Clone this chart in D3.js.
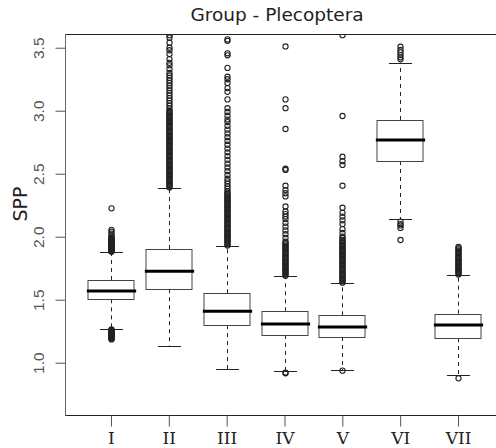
<!DOCTYPE html>
<html><head><meta charset="utf-8">
<script src="https://cdn.jsdelivr.net/npm/d3@7"></script>
<style>body{margin:0;background:#fff}svg{display:block}</style>
</head><body>
<svg id="chart" width="496" height="448"></svg>
<script>
const groups = ["I","II","III","IV","V","VI","VII"];
const lowerWhisker = [1.270, 1.135, 0.948, 0.934, 0.942, 2.140, 0.905];
const q1 = [1.503, 1.583, 1.299, 1.220, 1.204, 2.601, 1.196];
const medians = [1.570, 1.725, 1.408, 1.307, 1.283, 2.767, 1.299];
const q3 = [1.656, 1.902, 1.551, 1.408, 1.376, 2.926, 1.389];
const upperWhisker = [1.876, 2.389, 1.929, 1.690, 1.633, 3.381, 1.696];
const yTicks = [1.0, 1.5, 2.0, 2.5, 3.0, 3.5];

const outliersI = [1.265,1.26,1.255,1.25,1.245,1.24,1.235,1.23,1.225,1.22,1.215,1.21,1.205,1.20,1.195,1.19,1.185,
  1.88,1.885,1.89,1.895,1.90,1.905,1.91,1.915,1.92,1.925,1.93,1.935,1.94,1.945,1.95,1.955,1.96,1.965,1.97,1.975,
  1.98,1.985,1.99,1.995,2.01,2.025,2.04,2.055,2.225];
const outliersII = [2.39,2.40,2.41,2.42,2.43,2.44,2.45,2.46,2.47,2.48,2.49,2.50,2.51,2.52,2.53,2.54,2.55,2.56,
  2.57,2.58,2.59,2.60,2.61,2.62,2.63,2.64,2.65,2.66,2.67,2.68,2.69,2.70,2.71,2.72,2.73,2.74,2.75,2.76,2.77,
  2.78,2.79,2.80,2.81,2.82,2.83,2.84,2.85,2.86,2.87,2.88,2.89,2.90,2.91,2.92,2.93,2.94,2.95,2.96,2.97,2.98,
  2.99,3.00,3.02,3.04,3.06,3.08,3.10,3.12,3.14,3.16,3.18,3.20,3.22,3.24,3.26,3.28,3.30,3.33,3.36,3.38,3.41,
  3.45,3.48,3.50,3.54,3.58,3.60];
const outliersIII = [1.93,1.94,1.95,1.96,1.97,1.98,1.99,2.00,2.01,2.02,2.03,2.04,2.05,2.06,2.07,2.08,2.09,2.10,
  2.11,2.12,2.13,2.14,2.15,2.16,2.17,2.18,2.19,2.20,2.21,2.22,2.23,2.24,2.25,2.26,2.27,2.28,2.29,2.30,2.31,
  2.32,2.33,2.34,2.35,2.36,2.38,2.40,2.42,2.44,2.46,2.49,2.52,2.55,2.58,2.61,2.64,2.67,2.70,
  2.73,2.76,2.79,2.82,2.85,2.88,2.91,2.93,2.96,2.99,3.02,3.09,3.15,3.18,3.22,3.25,3.27,3.34,3.44,3.456,3.555,3.566];
const outliersIV = [0.916,0.922,1.69,1.70,1.71,1.72,1.73,1.74,1.75,1.76,1.77,1.78,1.79,1.80,1.81,1.82,1.83,1.84,
  1.85,1.86,1.87,1.88,1.89,1.90,1.91,1.92,1.93,1.94,1.95,1.96,
  1.99,2.02,2.05,2.08,2.11,2.14,2.16,2.18,2.20,2.24,2.32,2.345,2.37,2.405,2.53,2.54,2.855,3.02,3.09,3.51];
const outliersV = [0.937,1.635,1.645,1.655,1.665,1.675,1.685,1.695,1.705,1.715,1.725,1.735,1.745,1.755,1.765,1.775,
  1.785,1.795,1.805,1.815,1.825,1.835,1.845,1.855,1.865,1.875,1.885,1.895,1.905,1.915,1.925,1.935,1.945,1.955,
  1.965,1.975,1.99,2.00,2.03,2.06,2.10,2.13,2.16,2.19,2.23,2.405,2.57,2.60,2.635,2.958,3.60];
const outliersVI = [1.974,2.07,2.09,2.10,2.12,3.408,3.424,3.442,3.463,3.482,3.508];
const outliersVII = [0.876,1.70,1.71,1.72,1.73,1.74,1.75,1.76,1.77,1.78,1.79,1.80,1.81,1.82,1.83,1.84,1.85,
  1.86,1.87,1.88,1.89,1.90,1.91,1.92];
const outliers = [outliersI, outliersII, outliersIII, outliersIV, outliersV, outliersVI, outliersVII];

const svg = d3.select("#chart");
const pLeft = 65, pRight = 504, pTop = 34, pBottom = 415;
const x = d3.scaleLinear().domain([0.205, 7.795]).range([pLeft, pRight]);
const y = d3.scaleLinear().domain([0.585, 3.609]).range([pBottom, pTop]);
const boxW = (x(1) - x(0)) * 0.8;
const capW = boxW / 2;

svg.append("defs").append("clipPath").attr("id","clip")
  .append("rect").attr("x",pLeft).attr("y",pTop).attr("width",pRight-pLeft).attr("height",pBottom-pTop);

const plot = svg.append("g").attr("clip-path","url(#clip)");

groups.forEach((g, i) => {
  const cx = Math.round(x(i + 1)) + 0.5;
  const grp = plot.append("g");
  grp.append("line").attr("x1",cx).attr("x2",cx).attr("y1",y(q3[i])).attr("y2",y(upperWhisker[i]))
    .attr("stroke","#222").attr("stroke-dasharray","4,4");
  grp.append("line").attr("x1",cx).attr("x2",cx).attr("y1",y(q1[i])).attr("y2",y(lowerWhisker[i]))
    .attr("stroke","#222").attr("stroke-dasharray","4,4");
  [upperWhisker[i], lowerWhisker[i]].forEach(v => {
    grp.append("line").attr("x1",cx-capW/2).attr("x2",cx+capW/2)
      .attr("y1",Math.round(y(v))+0.5).attr("y2",Math.round(y(v))+0.5).attr("stroke","#222");
  });
  const yt = Math.round(y(q3[i])) + 0.5, yb = Math.round(y(q1[i])) + 0.5;
  grp.append("rect").attr("x",Math.round(cx-boxW/2)).attr("y",yt).attr("width",Math.round(boxW))
    .attr("height",yb-yt).attr("fill","#fff").attr("stroke","#444");
  grp.append("line").attr("x1",cx-boxW/2-1.5).attr("x2",cx+boxW/2+1.5)
    .attr("y1",y(medians[i])).attr("y2",y(medians[i])).attr("stroke","#000").attr("stroke-width",3);
  grp.selectAll("circle").data(outliers[i]).enter().append("circle")
    .attr("cx",cx).attr("cy",d => y(d)).attr("r",2.6)
    .attr("fill","none").attr("stroke","#222").attr("stroke-width",1.1);
});

svg.append("rect").attr("x",pLeft+0.5).attr("y",pTop+0.5).attr("width",pRight-pLeft).attr("height",pBottom-pTop)
  .attr("fill","none").attr("stroke","#222");
svg.append("line").attr("x1",pLeft+0.5).attr("x2",pLeft+0.5).attr("y1",pTop).attr("y2",pBottom+1)
  .attr("stroke","#666");

const yAxis = svg.append("g").attr("transform",`translate(${pLeft+0.5},0)`)
  .call(d3.axisLeft(y).tickValues(yTicks).tickSize(10).tickFormat(d3.format(".1f")));
yAxis.select(".domain").remove();
yAxis.selectAll(".tick line").attr("stroke","#555");
yAxis.selectAll(".tick text")
  .attr("transform","rotate(-90)").attr("x",0).attr("y",-21.5).attr("dy",null)
  .attr("text-anchor","middle").attr("fill","#555")
  .style("font-family","'Liberation Sans', Arial, sans-serif").style("font-size","15.5px");

const xAxis = svg.append("g").attr("transform",`translate(0,${pBottom+0.5})`)
  .call(d3.axisBottom(x).tickValues(d3.range(1, groups.length + 1)).tickSize(11).tickFormat(d => groups[d-1]));
xAxis.select(".domain").remove();
xAxis.selectAll(".tick line").attr("stroke","#555");
xAxis.selectAll(".tick text").attr("y",28).attr("dy",null).attr("fill","#222")
  .style("font-family","'DejaVu Serif', serif").style("font-size","17px");

svg.append("text").attr("x",277).attr("y",21).attr("text-anchor","middle")
  .style("font-family","'DejaVu Sans', Verdana, sans-serif").style("font-size","18.5px").attr("fill","#222")
  .text("Group - Plecoptera");

svg.append("text").attr("transform","translate(27,204) rotate(-90)").attr("text-anchor","middle")
  .style("font-family","'DejaVu Sans', Verdana, sans-serif").style("font-size","19px").attr("fill","#222")
  .text("SPP");
</script>
</body></html>
